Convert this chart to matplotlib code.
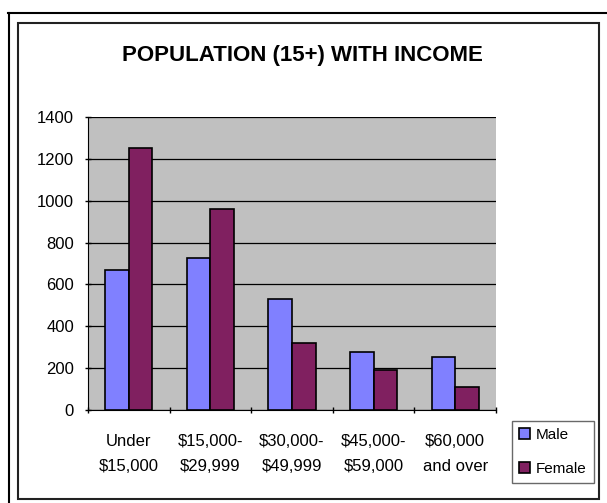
import matplotlib
matplotlib.use("Agg")
import matplotlib.pyplot as plt
import matplotlib.patches as mpatch
from matplotlib.lines import Line2D
import numpy as np

categories = ["Under\n$15,000", "$15,000-\n$29,999", "$30,000-\n$49,999",
              "$45,000-\n$59,000", "$60,000\nand over"]
male = [670, 728, 532, 275, 255]
female = [1250, 960, 322, 190, 110]
yticks = [0, 200, 400, 600, 800, 1000, 1200, 1400]

plt.rcParams['font.family'] = ['Liberation Sans', 'DejaVu Sans']

W, H = 607, 503
fig = plt.figure(figsize=(W / 100, H / 100), dpi=100)
fig.patch.set_facecolor('white')

# pixel -> figure fraction helpers
fx = lambda px: px / W
fy = lambda py: 1 - py / H

# outer frame lines (top and left only) and inner chart box
fig.add_artist(Line2D([fx(8), fx(607)], [fy(13), fy(13)], color='black', lw=1.5))
fig.add_artist(Line2D([fx(9), fx(9)], [fy(13), fy(503)], color='black', lw=1.5))
fig.add_artist(mpatch.Rectangle((fx(18), fy(499)), fx(599) - fx(18), fy(23) - fy(499),
                                fill=False, edgecolor='#222222', lw=1.5))

ax = fig.add_axes([fx(88), fy(410), fx(496) - fx(88), fy(117) - fy(410)])
ax.set_facecolor('#C0C0C0')

x = np.arange(len(categories))
bw = 0.29
ax.bar(x - bw / 2, male, bw, color='#8080FF', edgecolor='black', lw=1.2,
       label='Male', zorder=3)
ax.bar(x + bw / 2, female, bw, color='#802060', edgecolor='black', lw=1.2,
       label='Female', zorder=3)

ax.set_xlim(-0.5, len(categories) - 0.5)
ax.set_ylim(0, 1400)
ax.set_yticks(yticks)
ax.set_yticklabels([str(v) for v in yticks], fontsize=12)
ax.yaxis.grid(True, color='black', lw=0.9, zorder=1)
ax.set_axisbelow(True)

ax.set_xticks(x)
ax.set_xticklabels(categories, fontsize=12, linespacing=1.85)
ax.tick_params(axis='x', length=0, pad=17)
# category separator ticks
ax.set_xticks(np.arange(-0.5, len(categories)), minor=True)
ax.tick_params(axis='x', which='minor', length=5, direction='inout', width=1)
ax.tick_params(axis='y', length=4, direction='inout', width=1, pad=8)

for s in ['top', 'right']:
    ax.spines[s].set_visible(False)
ax.spines['left'].set_color('black')
ax.spines['bottom'].set_color('black')

fig.text(fx(302), fy(55), "POPULATION (15+) WITH INCOME", ha='center', va='center',
         fontsize=16, fontweight='bold')

leg = fig.legend(loc='center', bbox_to_anchor=(fx(553), fy(452)),
                 fontsize=11, frameon=True, fancybox=False,
                 handlelength=0.7, handleheight=0.7, handletextpad=0.4,
                 borderpad=0.45, labelspacing=1.3, borderaxespad=0)
leg.get_frame().set_edgecolor('#444444')
leg.get_frame().set_linewidth(1)

fig.savefig('out.png', dpi=100)
